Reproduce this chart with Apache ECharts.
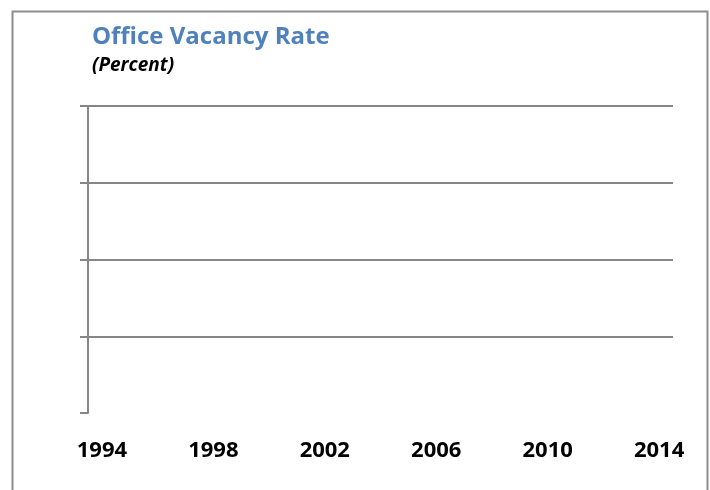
<!DOCTYPE html>
<html>
<head>
<meta charset="utf-8">
<script src="https://cdn.jsdelivr.net/npm/echarts@6/dist/echarts.min.js"></script>
<style>
  html, body { margin: 0; padding: 0; background: #fff; }
  #chart { width: 710px; height: 490px; }
</style>
</head>
<body>
<div id="chart"></div>
<script>
// categories: one slot per year, only every 4th is labelled
var years = [];
for (var y = 1994; y <= 2014; y++) years.push(String(y));

// y axis ticks (no labels shown on the original)
var yMin = 0;
var yMax = 4;
var yStep = 1;

// no data was plotted on the original chart
var vacancyRate = [];

var chart = echarts.init(document.getElementById('chart'));

var option = {
    backgroundColor: '#fff',
    animation: false,
    title: {
        text: 'Office Vacancy Rate',
        subtext: '(Percent)',
        left: 87,
        top: 20,
        itemGap: 7,
        textStyle: {
            fontFamily: 'Open Sans',
            fontWeight: 'bold',
            fontSize: 24,
            color: '#4F81BD'
        },
        subtextStyle: {
            fontFamily: 'Open Sans',
            fontWeight: 'bold',
            fontStyle: 'italic',
            fontSize: 19,
            color: '#000'
        }
    },
    graphic: [{
        type: 'rect',
        left: 10,
        top: 9,
        shape: { width: 695, height: 520 },
        style: { fill: 'none', stroke: '#8c8c8c', lineWidth: 2 },
        silent: true
    }],
    grid: {
        left: 88,
        right: 37,
        top: 106,
        bottom: 77
    },
    xAxis: {
        type: 'category',
        data: years,
        boundaryGap: true,
        axisLine: { show: false },
        axisTick: { show: false },
        axisLabel: {
            interval: 3,
            margin: 27,
            fontFamily: 'Open Sans',
            fontWeight: 'bold',
            fontSize: 22,
            color: '#000'
        },
        splitLine: { show: false }
    },
    yAxis: {
        type: 'value',
        min: yMin,
        max: yMax,
        interval: yStep,
        axisLine: { show: true, lineStyle: { color: '#868686', width: 2 } },
        axisTick: { show: true, length: 8, lineStyle: { color: '#868686', width: 2 } },
        axisLabel: { show: false },
        splitLine: {
            show: true,
            lineStyle: {
                color: ['rgba(0,0,0,0)', '#868686', '#868686', '#868686', '#868686'],
                width: 2
            }
        }
    },
    series: [{
        name: 'Office Vacancy Rate',
        type: 'line',
        data: vacancyRate
    }]
};

chart.setOption(option);
</script>
</body>
</html>
